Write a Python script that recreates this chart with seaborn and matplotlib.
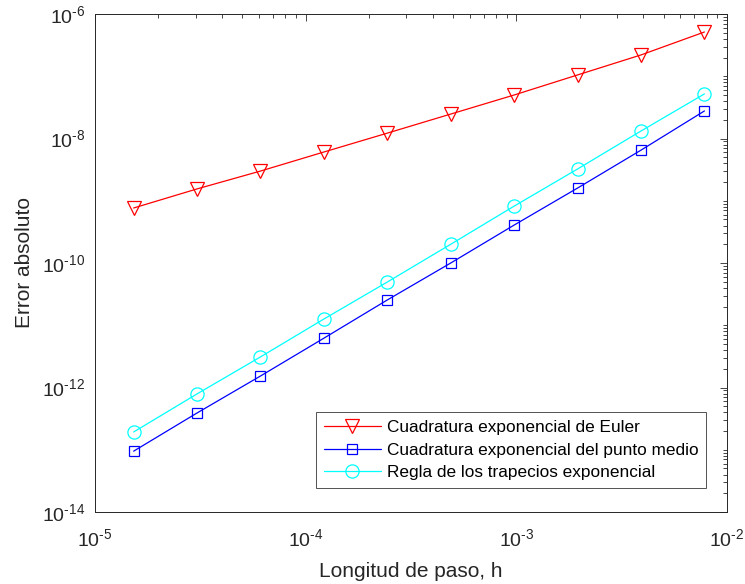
import numpy as np
import pandas as pd
import matplotlib
matplotlib.use("Agg")
import matplotlib.pyplot as plt
import matplotlib.ticker as mticker
import seaborn as sns

# Data
h = [2.0**-16, 2.0**-15, 2.0**-14, 2.0**-13, 2.0**-12,
     2.0**-11, 2.0**-10, 2.0**-9, 2.0**-8, 2.0**-7]
err_euler = [7.65e-10, 1.55e-9, 3.0e-9, 6.07e-9, 1.22e-8,
             2.47e-8, 5.0e-8, 1.05e-7, 2.2e-7, 5.14e-7]
err_midpoint = [9.5e-14, 3.9e-13, 1.53e-12, 6.2e-12, 2.55e-11,
                1.0e-10, 4.07e-10, 1.6e-9, 6.5e-9, 2.77e-8]
err_trap = [1.93e-13, 7.9e-13, 3.1e-12, 1.26e-11, 4.95e-11,
            2.0e-10, 8.2e-10, 3.24e-9, 1.32e-8, 5.2e-8]
xticks = [1e-5, 1e-4, 1e-3, 1e-2]
yticks = [1e-14, 1e-12, 1e-10, 1e-8, 1e-6]
labels = ["Cuadratura exponencial de Euler",
          "Cuadratura exponencial del punto medio",
          "Regla de los trapecios exponencial"]
xlabel = "Longitud de paso, h"
ylabel = "Error absoluto"

sns.set_style("white")
plt.rcParams['font.family'] = ['Liberation Sans', 'DejaVu Sans']
plt.rcParams['mathtext.fontset'] = 'custom'
plt.rcParams['mathtext.rm'] = 'Liberation Sans'
plt.rcParams['mathtext.it'] = 'Liberation Sans:italic'
plt.rcParams['mathtext.default'] = 'regular'

fig = plt.figure(figsize=(7.45, 5.84), dpi=100)
ax = fig.add_axes([95/745, 1-512/584, (727-95)/745, (512-14)/584])

gray = '#262626'
series = [(err_euler, 'red', 'v', 10),
          (err_midpoint, 'blue', 's', 6.5),
          (err_trap, 'cyan', 'o', 9.5)]
for (vals, col, mk, ms), lab in zip(series, labels):
    df = pd.DataFrame({'h': h, 'err': vals})
    sns.lineplot(data=df, x='h', y='err', ax=ax, color=col, marker=mk,
                 markersize=ms, markerfacecolor='none', markeredgecolor=col,
                 markeredgewidth=0.9, linewidth=0.9, label=lab)

ax.set_xscale('log')
ax.set_yscale('log')
ax.set_xlim(1e-5, 1e-2)
ax.set_ylim(1e-14, 1e-6)


def fmt(v, pos):
    e = int(round(np.log10(v)))
    return r'$10^{\text{%d}}$' % e


ax.xaxis.set_major_locator(mticker.FixedLocator(xticks))
ax.yaxis.set_major_locator(mticker.FixedLocator(yticks))
ax.xaxis.set_major_formatter(mticker.FuncFormatter(fmt))
ax.yaxis.set_major_formatter(mticker.FuncFormatter(fmt))
ax.xaxis.set_minor_locator(mticker.LogLocator(base=10, subs=np.arange(1, 10), numticks=100))
ax.yaxis.set_minor_locator(mticker.LogLocator(base=10, subs=np.arange(1, 10), numticks=100))
ax.xaxis.set_minor_formatter(mticker.NullFormatter())
ax.yaxis.set_minor_formatter(mticker.NullFormatter())

ax.tick_params(which='both', direction='in', top=True, right=True,
               colors=gray, labelcolor=gray, width=0.6)
ax.tick_params(which='major', length=5, labelsize=14)
ax.tick_params(axis='x', which='major', pad=12)
ax.tick_params(axis='y', which='major', pad=7)
ax.tick_params(which='minor', length=3)
for s in ax.spines.values():
    s.set_color(gray)
    s.set_linewidth(0.7)

ax.set_xlabel(xlabel, fontsize=15, color=gray, labelpad=8)
ax.set_ylabel(ylabel, fontsize=15, color=gray, labelpad=6)

leg = ax.legend(loc='lower right', fontsize=12.4, frameon=True, fancybox=False,
                edgecolor=gray, handlelength=3.3, borderpad=0.45,
                labelspacing=0.45, handletextpad=0.35, borderaxespad=0,
                bbox_to_anchor=(0.967, 0.048))
leg.get_frame().set_linewidth(0.7)
for t in leg.get_texts():
    t.set_color('black')

fig.savefig('out.png', dpi=100, facecolor='white')
